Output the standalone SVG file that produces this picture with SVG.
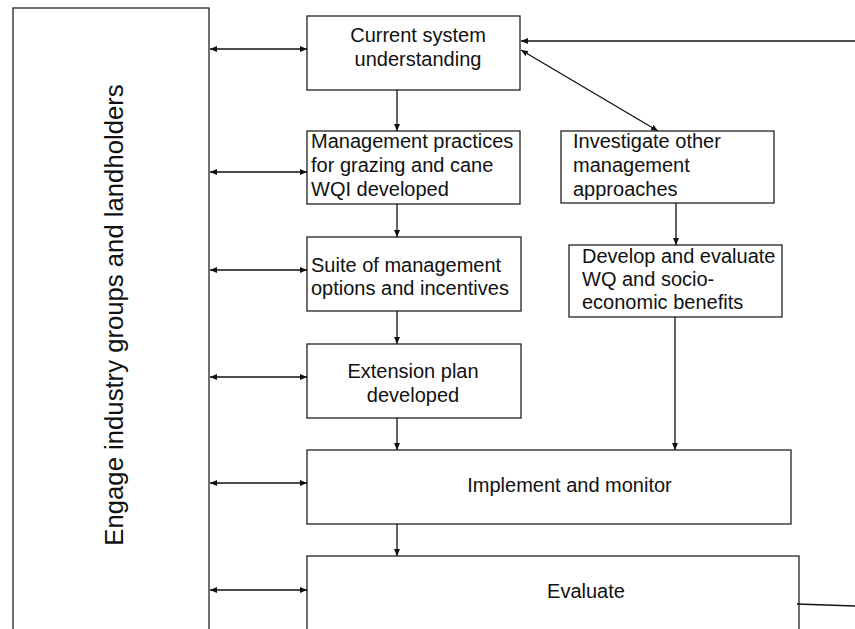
<svg xmlns="http://www.w3.org/2000/svg" width="855" height="629" viewBox="0 0 855 629">
<style>
.box{fill:#fff;stroke:#222;stroke-width:1.3}
.lbl{font-family:"Liberation Sans",Arial,sans-serif;font-size:20px;fill:#111}
.c{text-anchor:middle}
.con{fill:none;stroke:#111;stroke-width:1.3}
</style>
<defs>
<marker id="ah" markerUnits="userSpaceOnUse" markerWidth="7" markerHeight="6" refX="7" refY="3" orient="auto-start-reverse">
<path d="M0,0 L7,3 L0,6 z" fill="#111"/>
</marker>
</defs>
<rect width="855" height="629" fill="#fff"/>
<g id="engage">
<rect class="box" x="13" y="8" width="196" height="640" stroke="#444"/>
<text class="lbl c" style="font-size:25.7px" transform="translate(123,315) rotate(-90)">Engage industry groups and landholders</text>
</g>
<g id="current">
<rect class="box" x="307" y="16" width="213" height="74"/>
<text class="lbl c" x="418" y="42">Current system</text>
<text class="lbl c" x="418" y="66">understanding</text>
</g>
<g id="mgmt">
<rect class="box" x="307" y="131" width="213" height="73"/>
<text class="lbl" x="311" y="148">Management practices</text>
<text class="lbl" x="311" y="172">for grazing and cane</text>
<text class="lbl" x="311" y="196">WQI developed</text>
</g>
<g id="investigate">
<rect class="box" x="561" y="131" width="213" height="72"/>
<text class="lbl" x="573" y="148">Investigate other</text>
<text class="lbl" x="573" y="172">management</text>
<text class="lbl" x="573" y="196">approaches</text>
</g>
<g id="suite">
<rect class="box" x="307" y="237" width="214" height="74"/>
<text class="lbl" x="311" y="272">Suite of management</text>
<text class="lbl" x="311" y="295">options and incentives</text>
</g>
<g id="develop">
<rect class="box" x="569" y="245" width="213" height="72"/>
<text class="lbl" x="582" y="263">Develop and evaluate</text>
<text class="lbl" x="582" y="286">WQ and socio-</text>
<text class="lbl" x="582" y="309">economic benefits</text>
</g>
<g id="extension">
<rect class="box" x="307" y="344" width="214" height="74"/>
<text class="lbl c" x="413" y="378">Extension plan</text>
<text class="lbl c" x="413" y="402">developed</text>
</g>
<g id="implement">
<rect class="box" x="307" y="450" width="484" height="74"/>
<text class="lbl c" x="569.5" y="492">Implement and monitor</text>
</g>
<g id="evaluate">
<rect class="box" x="307" y="556" width="492" height="100"/>
<text class="lbl c" x="586" y="598">Evaluate</text>
</g>
<g id="connectors">
<line class="con" x1="210" y1="49" x2="307" y2="49" marker-start="url(#ah)" marker-end="url(#ah)"/>
<line class="con" x1="210" y1="172" x2="307" y2="172" marker-start="url(#ah)" marker-end="url(#ah)"/>
<line class="con" x1="210" y1="270" x2="307" y2="270" marker-start="url(#ah)" marker-end="url(#ah)"/>
<line class="con" x1="210" y1="377" x2="307" y2="377" marker-start="url(#ah)" marker-end="url(#ah)"/>
<line class="con" x1="210" y1="483" x2="307" y2="483" marker-start="url(#ah)" marker-end="url(#ah)"/>
<line class="con" x1="210" y1="590" x2="307" y2="590" marker-start="url(#ah)" marker-end="url(#ah)"/>
<line class="con" x1="397" y1="90" x2="397" y2="131" marker-end="url(#ah)"/>
<line class="con" x1="397" y1="204" x2="397" y2="237" marker-end="url(#ah)"/>
<line class="con" x1="397" y1="311" x2="397" y2="344" marker-end="url(#ah)"/>
<line class="con" x1="397" y1="418" x2="397" y2="450" marker-end="url(#ah)"/>
<line class="con" x1="397" y1="524" x2="397" y2="556" marker-end="url(#ah)"/>
<line class="con" x1="676" y1="203" x2="676" y2="245" marker-end="url(#ah)"/>
<line class="con" x1="675" y1="317" x2="675" y2="450" marker-end="url(#ah)"/>
<line class="con" x1="855" y1="41" x2="521" y2="41" marker-end="url(#ah)"/>
<line class="con" x1="521" y1="50" x2="658" y2="131" marker-start="url(#ah)" marker-end="url(#ah)"/>
<line class="con" x1="797" y1="604" x2="855" y2="606"/>
</g>
</svg>
